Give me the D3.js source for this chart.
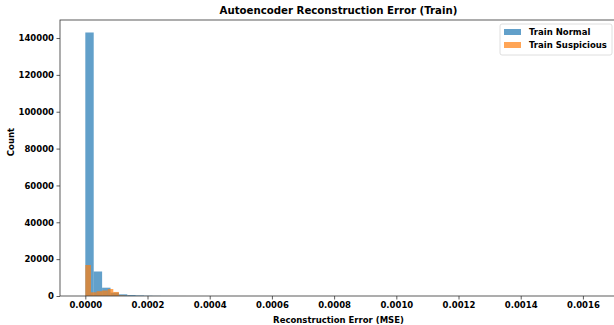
<!DOCTYPE html>
<html><head><meta charset="utf-8">
<script src="https://cdn.jsdelivr.net/npm/d3@7"></script>
<style>body{margin:0;background:#fff}svg{display:block}text{font-family:"DejaVu Sans",sans-serif;font-weight:bold;fill:#000}</style>
</head><body><svg id="c" width="614" height="325"></svg>
<script>
// Data
const normalBinStart = 0;
const normalBinWidth = 0.000027;
const normalCounts = [143000, 13300, 4500, 1800, 900, 500, 300, 150, 80, 40, 20, 10];
const suspBinStart = 0;
const suspBinWidth = 0.000018;
const suspCounts = [16800, 2000, 2600, 3000, 3800, 2200, 300, 100];
const xTicks = [0.0000, 0.0002, 0.0004, 0.0006, 0.0008, 0.0010, 0.0012, 0.0014, 0.0016];
const yTicks = [0, 20000, 40000, 60000, 80000, 100000, 120000, 140000];
const legendLabels = ["Train Normal", "Train Suspicious"];
const colors = ["#1f77b4", "#ff7f0e"];

const svg = d3.select("#c");
const L = 60, R = 617, T = 20, B = 296;
const x = d3.scaleLinear().domain([-0.0000814, 0.0017096]).range([L, R]);
const y = d3.scaleLinear().domain([0, 149780]).range([B, T]);

function bars(counts, start, w, col) {
  svg.append("g").selectAll("rect").data(counts).join("rect")
    .attr("x", (d, i) => x(start + i * w))
    .attr("width", (d, i) => x(start + (i + 1) * w) - x(start + i * w))
    .attr("y", d => y(d))
    .attr("height", d => y(0) - y(d))
    .attr("fill", col).attr("fill-opacity", 0.7);
}
bars(normalCounts, normalBinStart, normalBinWidth, colors[0]);
bars(suspCounts, suspBinStart, suspBinWidth, colors[1]);

const xa = svg.append("g").attr("transform", `translate(0,${B})`)
  .call(d3.axisBottom(x).tickValues(xTicks).tickFormat(d3.format(".4f")).tickSizeOuter(0).tickSize(3.5));
const ya = svg.append("g").attr("transform", `translate(${L},0)`)
  .call(d3.axisLeft(y).tickValues(yTicks).tickFormat(d3.format("d")).tickSizeOuter(0).tickSize(3.5));
[xa, ya].forEach(a => {
  a.selectAll("text").style("font-size", "8.5px").style("font-family", "DejaVu Sans").style("font-weight", "bold").attr("fill", "#000");
  a.selectAll("line").attr("stroke", "#333").attr("stroke-width", 0.8);
  a.select(".domain").remove();
});
xa.selectAll("text").attr("dy", "0.71em").attr("y", 6);
ya.selectAll("text").attr("x", -6);
// spines
svg.append("rect").attr("x", L).attr("y", T).attr("width", R - L).attr("height", B - T)
  .attr("fill", "none").attr("stroke", "#333").attr("stroke-width", 0.8);

svg.append("text").attr("x", (L + R) / 2).attr("y", 14).attr("text-anchor", "middle")
  .style("font-size", "10.2px").text("Autoencoder Reconstruction Error (Train)");
svg.append("text").attr("x", (L + R) / 2).attr("y", 323).attr("text-anchor", "middle")
  .style("font-size", "8.5px").text("Reconstruction Error (MSE)");
svg.append("text").attr("transform", `translate(14,${142}) rotate(-90)`).attr("text-anchor", "middle")
  .style("font-size", "8.5px").text("Count");

// legend
const lg = svg.append("g");
lg.append("rect").attr("x", 500).attr("y", 24).attr("width", 112).attr("height", 31).attr("rx", 2)
  .attr("fill", "#fff").attr("fill-opacity", 0.8).attr("stroke", "#d6d6d6").attr("stroke-width", 0.8);
legendLabels.forEach((t, i) => {
  const cy = 32 + i * 13;
  lg.append("rect").attr("x", 504).attr("y", cy - 3).attr("width", 17).attr("height", 6)
    .attr("fill", colors[i]).attr("fill-opacity", 0.7);
  lg.append("text").attr("x", 529).attr("y", cy + 3).style("font-size", "8.5px").text(t);
});
</script></body></html>
